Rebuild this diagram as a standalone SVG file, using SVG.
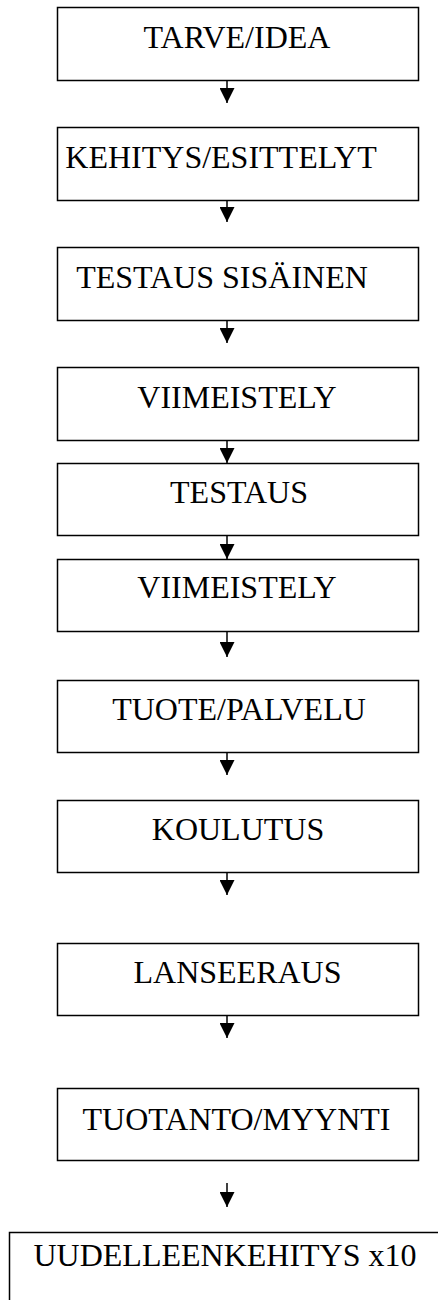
<svg xmlns="http://www.w3.org/2000/svg" width="438" height="1300" viewBox="0 0 438 1300">
  <style>
    .box { fill: #ffffff; stroke: #000000; stroke-width: 1.5; }
    .lbl { font-family: "Liberation Serif", "Times New Roman", serif; font-size: 32px; fill: #000000; text-anchor: middle; }
    .arr { stroke: #000000; stroke-width: 1.5; fill: none; marker-end: url(#head); }
  </style>
  <defs>
    <marker id="head" markerUnits="userSpaceOnUse" markerWidth="15" markerHeight="15" refX="15" refY="7.5" orient="auto">
      <path d="M0,0 L15,7.5 L0,15 Z" fill="#000000"/>
    </marker>
  </defs>
  <rect width="438" height="1300" fill="#ffffff"/>

  <g id="n1"><rect class="box" x="57.5" y="7.5" width="361" height="73"/><text class="lbl" x="237" y="48">TARVE/IDEA</text></g>
  <g id="n2"><rect class="box" x="57.5" y="127.5" width="361" height="73"/><text class="lbl" x="221" y="168">KEHITYS/ESITTELYT</text></g>
  <g id="n3"><rect class="box" x="57.5" y="247.5" width="361" height="73"/><text class="lbl" x="222" y="288">TESTAUS SISÄINEN</text></g>
  <g id="n4"><rect class="box" x="57.5" y="367.5" width="361" height="73"/><text class="lbl" x="237" y="408">VIIMEISTELY</text></g>
  <g id="n5"><rect class="box" x="57.5" y="463.5" width="361" height="72"/><text class="lbl" x="239" y="503">TESTAUS</text></g>
  <g id="n6"><rect class="box" x="57.5" y="559.5" width="361" height="72"/><text class="lbl" x="237" y="598">VIIMEISTELY</text></g>
  <g id="n7"><rect class="box" x="57.5" y="680.5" width="361" height="72"/><text class="lbl" x="239" y="720">TUOTE/PALVELU</text></g>
  <g id="n8"><rect class="box" x="57.5" y="800.5" width="361" height="72"/><text class="lbl" x="238" y="840">KOULUTUS</text></g>
  <g id="n9"><rect class="box" x="57.5" y="943.5" width="361" height="72"/><text class="lbl" x="237.5" y="983">LANSEERAUS</text></g>
  <g id="n10"><rect class="box" x="57.5" y="1088.5" width="361" height="72"/><text class="lbl" x="236.5" y="1130">TUOTANTO/MYYNTI</text></g>
  <g id="n11"><rect class="box" x="9.5" y="1232.5" width="450" height="100"/><text class="lbl" x="225" y="1266">UUDELLEENKEHITYS x10</text></g>

  <g id="connectors">
    <line class="arr" x1="227" y1="81" x2="227" y2="103"/>
    <line class="arr" x1="227" y1="201" x2="227" y2="222"/>
    <line class="arr" x1="227" y1="321" x2="227" y2="343"/>
    <line class="arr" x1="227" y1="441" x2="227" y2="463"/>
    <line class="arr" x1="227" y1="536" x2="227" y2="559"/>
    <line class="arr" x1="227" y1="632" x2="227" y2="657"/>
    <line class="arr" x1="227" y1="753" x2="227" y2="775"/>
    <line class="arr" x1="227" y1="873" x2="227" y2="895"/>
    <line class="arr" x1="227" y1="1016" x2="227" y2="1038"/>
    <line class="arr" x1="227" y1="1183" x2="227" y2="1207"/>
  </g>
</svg>
